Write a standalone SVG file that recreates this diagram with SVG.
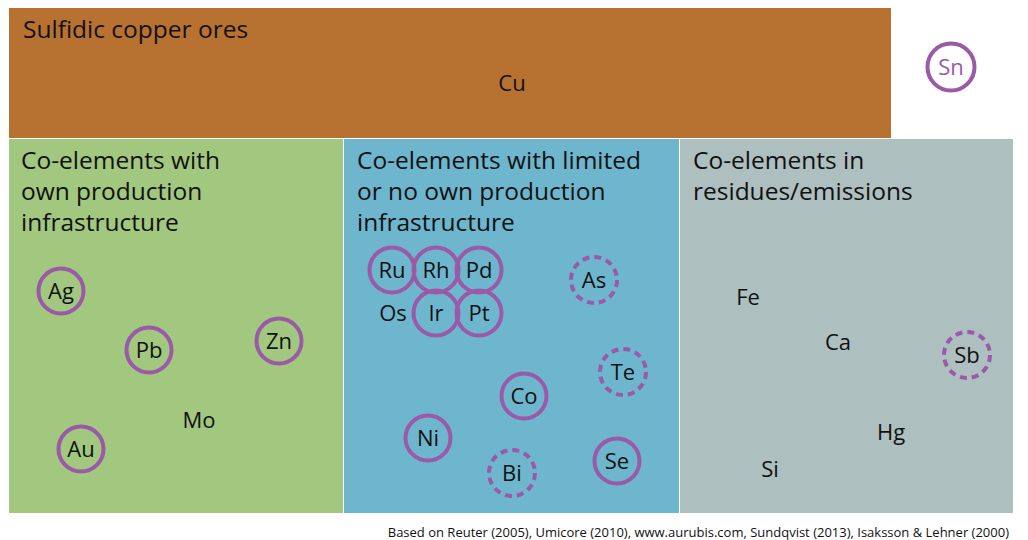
<svg xmlns="http://www.w3.org/2000/svg" width="1028" height="540" viewBox="0 0 1028 540">
<style>
.t{font-family:"Open Sans","Noto Sans","Liberation Sans",sans-serif;fill:#111}
.h{font-size:24.5px}
.e{font-size:22px;text-anchor:middle}
.c{fill:none;stroke:#9B5AA8;stroke-width:4}
.d{fill:none;stroke:#9B5AA8;stroke-width:4;stroke-dasharray:7 5}
</style>
<rect x="0" y="0" width="1028" height="540" fill="#fff"/>
<g id="ores">
<rect x="9" y="8" width="882" height="130" fill="#B77232"/>
<text class="t h" x="23" y="38">Sulfidic copper ores</text>
<text class="t e" x="512" y="91">Cu</text>
</g>
<g id="sn"><circle class="c" cx="951" cy="67" r="23.5"/><text class="t e" x="951" y="75" style="fill:#9B5AA8">Sn</text></g>
<g id="panel-own">
<rect x="9" y="139" width="334" height="374" fill="#A2C77F"/>
<text class="t h" x="21" y="169">Co-elements with</text>
<text class="t h" x="21" y="200">own production</text>
<text class="t h" x="21" y="231">infrastructure</text>
</g>
<g id="panel-limited">
<rect x="344" y="139" width="335" height="374" fill="#6DB6CE"/>
<text class="t h" x="357" y="169">Co-elements with limited</text>
<text class="t h" x="357" y="200">or no own production</text>
<text class="t h" x="357" y="231">infrastructure</text>
</g>
<g id="panel-residues">
<rect x="680" y="139" width="333" height="374" fill="#ADBFBF"/>
<text class="t h" x="693" y="169">Co-elements in</text>
<text class="t h" x="693" y="200">residues/emissions</text>
</g>
<g id="Ag"><circle class="c" cx="61" cy="291" r="22.5"/><text class="t e" x="61" y="299">Ag</text></g>
<g id="Pb"><circle class="c" cx="149" cy="350" r="22.5"/><text class="t e" x="149" y="358">Pb</text></g>
<g id="Zn"><circle class="c" cx="279" cy="341" r="22.5"/><text class="t e" x="279" y="349">Zn</text></g>
<g id="Au"><circle class="c" cx="81" cy="449" r="22.5"/><text class="t e" x="81" y="457">Au</text></g>
<g id="Mo"><text class="t e" x="199" y="428">Mo</text></g>
<g id="Ru"><circle class="c" cx="392" cy="270" r="22.5"/><text class="t e" x="392" y="278">Ru</text></g>
<g id="Rh"><circle class="c" cx="436" cy="270" r="22.5"/><text class="t e" x="436" y="278">Rh</text></g>
<g id="Pd"><circle class="c" cx="479" cy="270" r="22.5"/><text class="t e" x="479" y="278">Pd</text></g>
<g id="Os"><text class="t e" x="393" y="321">Os</text></g>
<g id="Ir"><circle class="c" cx="436" cy="313" r="22.5"/><text class="t e" x="436" y="321">Ir</text></g>
<g id="Pt"><circle class="c" cx="479" cy="313" r="22.5"/><text class="t e" x="479" y="321">Pt</text></g>
<g id="As"><circle class="d" cx="594" cy="280" r="23"/><text class="t e" x="594" y="288">As</text></g>
<g id="Te"><circle class="d" cx="623" cy="372" r="23"/><text class="t e" x="623" y="380">Te</text></g>
<g id="Co"><circle class="c" cx="524" cy="396" r="22.5"/><text class="t e" x="524" y="404">Co</text></g>
<g id="Ni"><circle class="c" cx="428" cy="438" r="22.5"/><text class="t e" x="428" y="446">Ni</text></g>
<g id="Bi"><circle class="d" cx="512" cy="473" r="23"/><text class="t e" x="512" y="481">Bi</text></g>
<g id="Se"><circle class="c" cx="617" cy="461" r="22.5"/><text class="t e" x="617" y="469">Se</text></g>
<g id="Fe"><text class="t e" x="748" y="305">Fe</text></g>
<g id="Ca"><text class="t e" x="838" y="350">Ca</text></g>
<g id="Sb"><circle class="d" cx="967" cy="355" r="23"/><text class="t e" x="967" y="363">Sb</text></g>
<g id="Hg"><text class="t e" x="891" y="440">Hg</text></g>
<g id="Si"><text class="t e" x="770" y="477">Si</text></g>
<g id="connectors"></g>
<text class="t" x="1009" y="537" style="font-size:13px;text-anchor:end">Based on Reuter (2005), Umicore (2010), www.aurubis.com, Sundqvist (2013), Isaksson &amp; Lehner (2000)</text>
</svg>
